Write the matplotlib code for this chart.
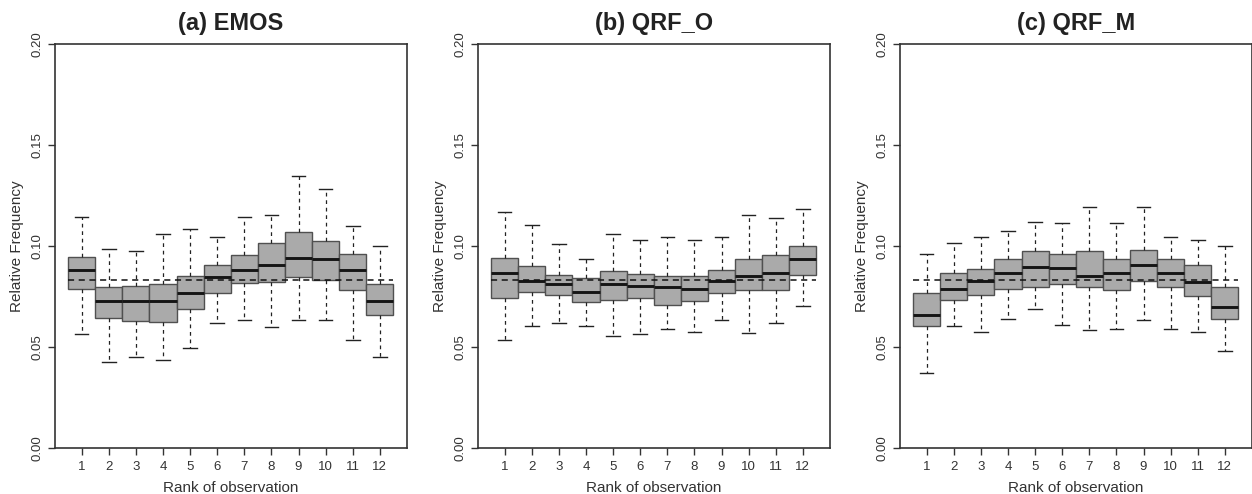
import matplotlib
matplotlib.use("Agg")
import matplotlib.pyplot as plt

ranks = list(range(1, 13))
titles = ["(a) EMOS", "(b) QRF_O", "(c) QRF_M"]

# EMOS
emos_whislo = [0.0564, 0.0426, 0.0454, 0.0439, 0.0495, 0.0619, 0.0634, 0.0599, 0.0634, 0.0634, 0.0536, 0.0454]
emos_q1     = [0.0789, 0.0647, 0.0632, 0.0624, 0.0690, 0.0767, 0.0818, 0.0825, 0.0848, 0.0835, 0.0785, 0.0660]
emos_med    = [0.0883, 0.0729, 0.0729, 0.0729, 0.0771, 0.0848, 0.0883, 0.0909, 0.0941, 0.0937, 0.0881, 0.0729]
emos_q3     = [0.0949, 0.0797, 0.0805, 0.0812, 0.0851, 0.0908, 0.0955, 0.1016, 0.1073, 0.1025, 0.0964, 0.0812]
emos_whishi = [0.1144, 0.0988, 0.0979, 0.1059, 0.1084, 0.1046, 0.1147, 0.1155, 0.1348, 0.1282, 0.1099, 0.1003]

# QRF_O
qrfo_whislo = [0.0536, 0.0606, 0.0619, 0.0606, 0.0558, 0.0564, 0.0591, 0.0578, 0.0634, 0.0571, 0.0622, 0.0703]
qrfo_q1     = [0.0743, 0.0772, 0.0757, 0.0723, 0.0733, 0.0743, 0.0710, 0.0728, 0.0771, 0.0784, 0.0785, 0.0858]
qrfo_med    = [0.0868, 0.0828, 0.0812, 0.0776, 0.0815, 0.0804, 0.0800, 0.0787, 0.0827, 0.0853, 0.0868, 0.0937]
qrfo_q3     = [0.0944, 0.0904, 0.0860, 0.0842, 0.0880, 0.0861, 0.0851, 0.0851, 0.0881, 0.0936, 0.0955, 0.1003]
qrfo_whishi = [0.1170, 0.1104, 0.1010, 0.0937, 0.1059, 0.1033, 0.1046, 0.1033, 0.1045, 0.1155, 0.1142, 0.1183]

# QRF_M
qrfm_whislo = [0.0371, 0.0606, 0.0578, 0.0639, 0.0688, 0.0612, 0.0584, 0.0591, 0.0634, 0.0591, 0.0578, 0.0482]
qrfm_q1     = [0.0606, 0.0736, 0.0757, 0.0790, 0.0799, 0.0812, 0.0799, 0.0785, 0.0827, 0.0799, 0.0752, 0.0640]
qrfm_med    = [0.0662, 0.0787, 0.0828, 0.0868, 0.0896, 0.0894, 0.0853, 0.0868, 0.0908, 0.0868, 0.0825, 0.0701]
qrfm_q3     = [0.0767, 0.0866, 0.0886, 0.0936, 0.0975, 0.0962, 0.0979, 0.0936, 0.0982, 0.0936, 0.0906, 0.0799]
qrfm_whishi = [0.0962, 0.1018, 0.1045, 0.1074, 0.1120, 0.1114, 0.1196, 0.1114, 0.1196, 0.1045, 0.1031, 0.1003]

panels = [
    (emos_whislo, emos_q1, emos_med, emos_q3, emos_whishi),
    (qrfo_whislo, qrfo_q1, qrfo_med, qrfo_q3, qrfo_whishi),
    (qrfm_whislo, qrfm_q1, qrfm_med, qrfm_q3, qrfm_whishi),
]

plt.rcParams['font.family'] = ['Liberation Sans', 'DejaVu Sans']

W, H = 1252, 494
fig = plt.figure(figsize=(W / 100, H / 100), dpi=100)

lefts = [54.5, 477.5, 899.5]
aw = 352.5
top, bottom = 44.3, 448.3
spine_col = '#333333'

for left, title, data in zip(lefts, titles, panels):
    ax = fig.add_axes([left / W, 1 - bottom / H, aw / W, (bottom - top) / H])
    wl, q1, md, q3, wh = data
    stats = [dict(whislo=a, q1=b, med=c, q3=d, whishi=e, fliers=[])
             for a, b, c, d, e in zip(wl, q1, md, q3, wh)]
    ax.bxp(stats, positions=ranks, widths=1.0, capwidths=0.5, patch_artist=True,
           showfliers=False, manage_ticks=False,
           boxprops=dict(facecolor='#aaaaaa', edgecolor='#505050', linewidth=1.0),
           medianprops=dict(color='#151515', linewidth=2.1),
           whiskerprops=dict(color='#222222', linewidth=0.9, linestyle=(0, (3, 3))),
           capprops=dict(color='#222222', linewidth=1.0))
    ax.hlines(1 / 12, 0.5, 12.5, colors='#111111', linestyles=(0, (4, 3)),
              linewidth=1.1, zorder=5)
    ax.set_xlim(0.0, 13.0)
    ax.set_ylim(0, 0.2)
    ax.set_xticks(ranks)
    ax.set_xticklabels([str(r) for r in ranks], fontsize=9.5, color='#333333')
    yt = [0.0, 0.05, 0.10, 0.15, 0.20]
    ax.set_yticks(yt)
    ax.set_yticklabels(['%.2f' % v for v in yt], fontsize=9.5, rotation=90,
                       va='center', color='#333333')
    ax.tick_params(direction='out', length=5, width=1, color=spine_col)
    ax.tick_params(axis='y', pad=3)
    ax.tick_params(axis='x', pad=4)
    for s in ax.spines.values():
        s.set_color(spine_col)
        s.set_linewidth(1.2)
    ax.set_title(title, fontsize=17, fontweight='bold', pad=10, color='#222222')
    ax.set_xlabel('Rank of observation', fontsize=11, color='#333333', labelpad=6)
    ax.set_ylabel('Relative Frequency', fontsize=11, color='#333333', labelpad=5)

fig.savefig('out.png', dpi=100, facecolor='white')
